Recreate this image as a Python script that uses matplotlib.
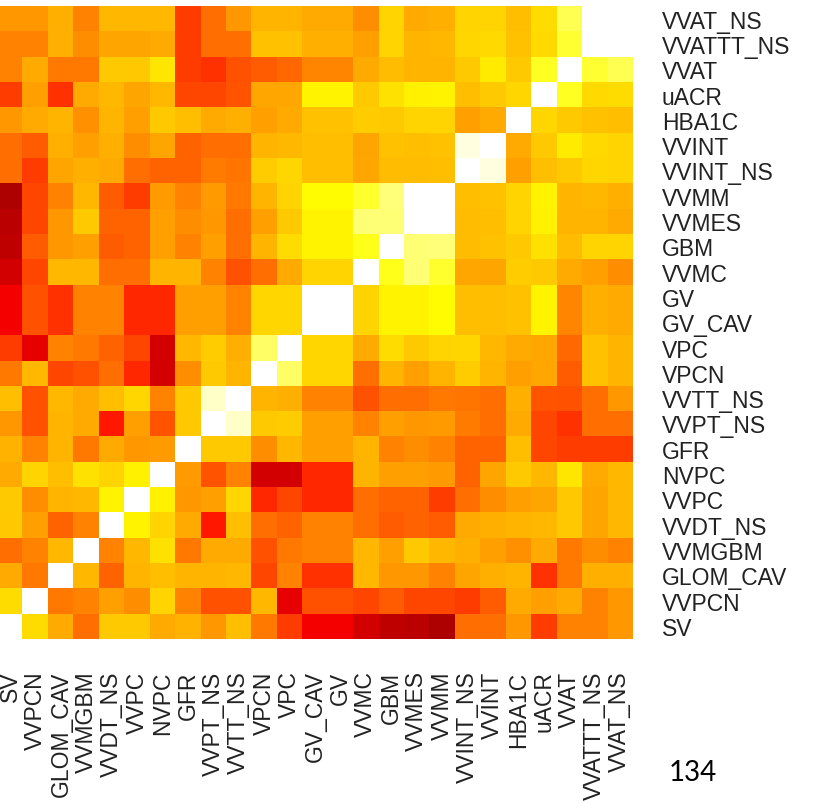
import numpy as np
import matplotlib.pyplot as plt

labels = ["SV", "VVPCN", "GLOM_CAV", "VVMGBM", "VVDT_NS", "VVPC", "NVPC", "GFR",
          "VVPT_NS", "VVTT_NS", "VPCN", "VPC", "GV_CAV", "GV", "VVMC", "GBM",
          "VVMES", "VVMM", "VVINT_NS", "VVINT", "HBA1C", "uACR", "VVAT",
          "VVATTT_NS", "VVAT_NS"]

# lower triangle: values of each variable against the ones before it
lower = [
    [],
    [0.695],
    [0.62, 0.545],
    [0.53, 0.56, 0.64],
    [0.665, 0.605, 0.515, 0.56],
    [0.665, 0.575, 0.635, 0.64, 0.73],
    [0.62, 0.68, 0.65, 0.70, 0.68, 0.725],
    [0.63, 0.56, 0.635, 0.545, 0.62, 0.59, 0.595],
    [0.59, 0.485, 0.635, 0.62, 0.40, 0.605, 0.49, 0.665],
    [0.65, 0.485, 0.64, 0.62, 0.65, 0.685, 0.56, 0.665, 0.945],
    [0.545, 0.64, 0.47, 0.485, 0.53, 0.425, 0.30, 0.575, 0.665, 0.635],
    [0.455, 0.33, 0.56, 0.545, 0.515, 0.47, 0.30, 0.64, 0.67, 0.625, 0.845],
    [0.35, 0.485, 0.44, 0.56, 0.56, 0.425, 0.425, 0.605, 0.605, 0.56, 0.685, 0.685],
    [0.35, 0.485, 0.44, 0.56, 0.56, 0.425, 0.425, 0.605, 0.605, 0.56, 0.685, 0.685,
     1.0],
    [0.30, 0.47, 0.64, 0.64, 0.53, 0.53, 0.635, 0.635, 0.56, 0.485, 0.53, 0.62,
     0.68, 0.68],
    [0.27, 0.50, 0.59, 0.605, 0.50, 0.515, 0.605, 0.56, 0.605, 0.53, 0.635, 0.695,
     0.73, 0.73, 0.77],
    [0.265, 0.47, 0.59, 0.665, 0.515, 0.515, 0.605, 0.575, 0.59, 0.53, 0.605, 0.665,
     0.73, 0.73, 0.86, 0.86],
    [0.243, 0.47, 0.56, 0.64, 0.50, 0.455, 0.595, 0.56, 0.595, 0.545, 0.635, 0.68,
     0.74, 0.74, 0.79, 0.865, 1.0],
    [0.53, 0.455, 0.61, 0.625, 0.62, 0.53, 0.515, 0.515, 0.55, 0.54, 0.67, 0.685,
     0.65, 0.65, 0.615, 0.645, 0.645, 0.65],
    [0.53, 0.50, 0.625, 0.605, 0.625, 0.575, 0.61, 0.515, 0.53, 0.53, 0.635, 0.64,
     0.65, 0.65, 0.61, 0.655, 0.65, 0.655, 0.965],
    [0.59, 0.62, 0.635, 0.58, 0.635, 0.605, 0.665, 0.65, 0.62, 0.625, 0.605, 0.62,
     0.655, 0.655, 0.67, 0.665, 0.68, 0.68, 0.605, 0.62],
    [0.455, 0.605, 0.44, 0.62, 0.64, 0.61, 0.64, 0.47, 0.47, 0.49, 0.615, 0.615,
     0.73, 0.73, 0.665, 0.70, 0.725, 0.73, 0.65, 0.665, 0.685],
    [0.56, 0.62, 0.545, 0.545, 0.665, 0.665, 0.71, 0.455, 0.44, 0.485, 0.50, 0.52,
     0.565, 0.565, 0.62, 0.645, 0.635, 0.635, 0.665, 0.715, 0.665, 0.78],
    [0.56, 0.56, 0.625, 0.575, 0.61, 0.61, 0.62, 0.455, 0.53, 0.53, 0.655, 0.655,
     0.625, 0.625, 0.605, 0.68, 0.635, 0.64, 0.685, 0.69, 0.655, 0.69, 0.795],
    [0.59, 0.59, 0.625, 0.56, 0.64, 0.64, 0.64, 0.455, 0.53, 0.59, 0.635, 0.635,
     0.62, 0.62, 0.575, 0.68, 0.62, 0.625, 0.68, 0.68, 0.65, 0.695, 0.825, 1.0],
]

n = len(labels)
mat = np.eye(n)
for j, row in enumerate(lower):
    for i, v in enumerate(row):
        mat[j, i] = v
        mat[i, j] = v

fig = plt.figure(figsize=(8.15, 8.04), dpi=100)
ax = fig.add_axes([-2.5 / 815, 1 - 639.5 / 804, 635 / 815, 632.5 / 804])
ax.imshow(mat, cmap="hot", vmin=0, vmax=1, origin="lower", aspect="auto",
          interpolation="nearest")

ax.set_xticks(range(n))
ax.set_xticklabels(labels, rotation=90)
ax.set_yticks(range(n))
ax.set_yticklabels(labels)
ax.yaxis.tick_right()
ax.tick_params(axis="x", length=0, pad=23, labelsize=16.5, labelcolor="#222222")
ax.tick_params(axis="y", length=0, pad=21, labelsize=16.5, labelcolor="#222222")
for lab in ax.get_xticklabels() + ax.get_yticklabels():
    lab.set_family("Liberation Sans")
for s in ax.spines.values():
    s.set_visible(False)

fig.text(693 / 815, 1 - 773 / 804, "134", fontsize=20, family="Lato",
         ha="center", va="center", color="black")

fig.savefig("out.png", dpi=100)
